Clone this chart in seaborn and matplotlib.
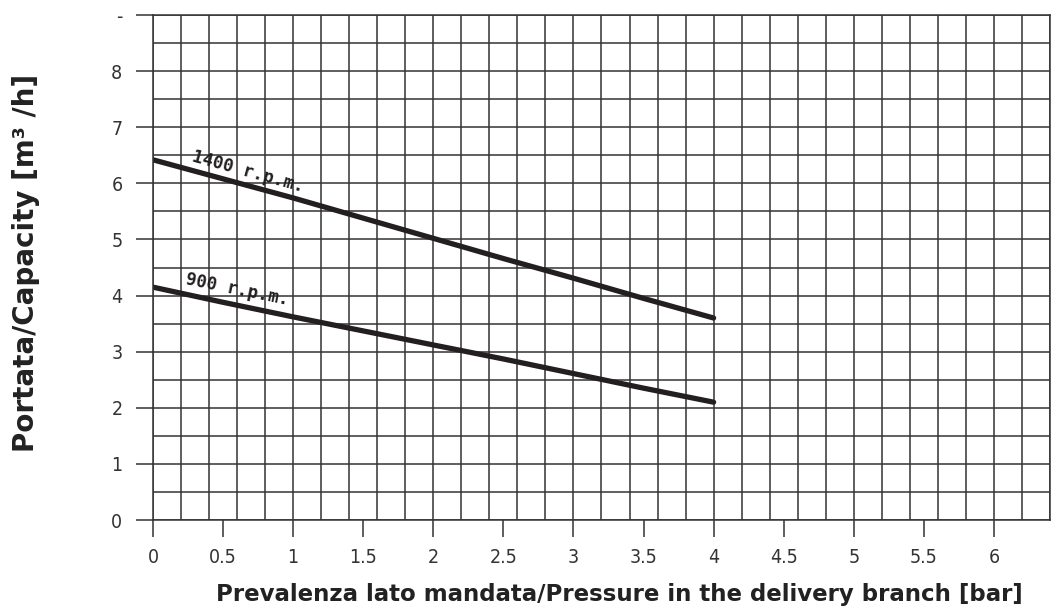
import numpy as np
import pandas as pd
import matplotlib
matplotlib.use("Agg")
import matplotlib.pyplot as plt
from matplotlib.ticker import MultipleLocator
import seaborn as sns

# Données
pression = [0, 0.5, 1, 1.5, 2, 2.5, 3, 3.5, 4]
debit_1400 = [6.42, 6.08, 5.74, 5.38, 5.02, 4.66, 4.31, 3.95, 3.6]
debit_900 = [4.15, 3.88, 3.62, 3.37, 3.12, 2.87, 2.61, 2.35, 2.1]
vitesses = ["1400 r.p.m.", "900 r.p.m."]
y_labels = ["0", "1", "2", "3", "4", "5", "6", "7", "8", "-"]
x_labels = ["0", "0.5", "1", "1.5", "2", "2.5", "3", "3.5", "4", "4.5", "5", "5.5", "6"]

df = pd.DataFrame({
    "pression": pression * 2,
    "debit": debit_1400 + debit_900,
    "vitesse": [vitesses[0]] * len(pression) + [vitesses[1]] * len(pression),
})

sns.set_style("white")
plt.rcParams["font.family"] = ["DejaVu Sans"]

fig = plt.figure(figsize=(10.61, 6.13), dpi=100)
ax = fig.add_axes([0.1442, 0.1517, 0.8454, 0.8238])

sns.lineplot(data=df, x="pression", y="debit", hue="vitesse", units="vitesse",
             estimator=None, palette=["#231f20", "#231f20"], linewidth=3.8,
             legend=False, ax=ax, solid_capstyle="round")

ax.set_xlim(0, 6.4)
ax.set_ylim(0, 9)

# grille fine : 0.2 bar x 0.5 m3/h, graduations a part
ax.xaxis.remove_overlapping_locs = False
ax.yaxis.remove_overlapping_locs = False
ax.xaxis.set_minor_locator(MultipleLocator(0.2))
ax.yaxis.set_minor_locator(MultipleLocator(0.5))
ax.set_xticks(np.arange(0, 6.01, 0.5))
ax.set_yticks(np.arange(0, 9.01, 1))
ax.set_xticklabels(x_labels)
ax.set_yticklabels(y_labels)
ax.grid(which="minor", color="#333333", linewidth=1.1)
ax.grid(which="major", visible=False)
ax.set_axisbelow(True)

ax.tick_params(axis="y", which="major", length=12, width=1.1, color="#333333",
               labelsize=14, labelcolor="#333333", pad=10, left=True)
ax.tick_params(axis="x", which="major", length=12, width=1.1, color="#333333",
               labelsize=14, labelcolor="#333333", pad=8, bottom=True)
ax.tick_params(which="minor", length=0)
for lab in ax.get_xticklabels() + ax.get_yticklabels():
    lab.set_fontstretch("condensed")
    lab.set_fontweight("light")

for s in ax.spines.values():
    s.set_color("#333333")
    s.set_linewidth(1.1)

ax.set_xlabel("Prevalenza lato mandata/Pressure in the delivery branch [bar]",
              fontsize=16.5, fontweight="bold", color="#222222")
ax.set_ylabel("Portata/Capacity [m³ /h]", fontsize=20, fontweight="bold",
              color="#222222")
ax.xaxis.set_label_coords(0.52, -0.125)
ax.yaxis.set_label_coords(-0.126, 0.51)

ax.text(0.68, 6.2, vitesses[0], rotation=-15.5, fontsize=12.5, fontweight="bold",
        family="DejaVu Sans Mono", ha="center", va="center", color="#231f20")
ax.text(0.6, 4.1, vitesses[1], rotation=-11.5, fontsize=12.5, fontweight="bold",
        family="DejaVu Sans Mono", ha="center", va="center", color="#231f20")

fig.savefig("out.png", dpi=100)
